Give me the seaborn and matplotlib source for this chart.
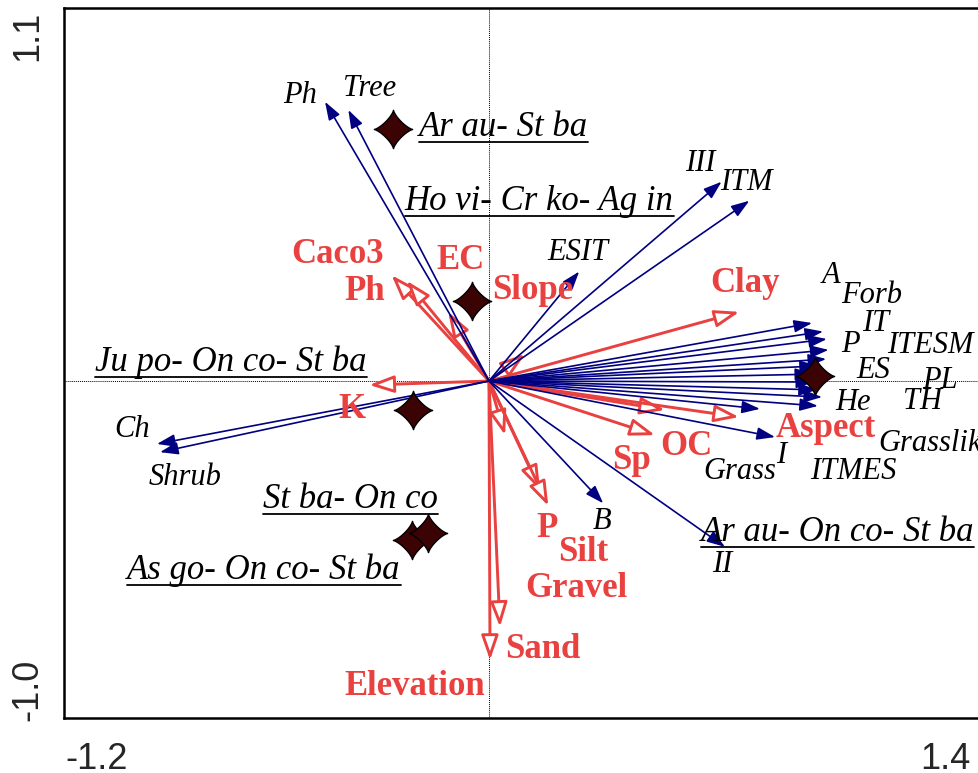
import numpy as np
import matplotlib
matplotlib.use('Agg')
import matplotlib.pyplot as plt
import matplotlib.transforms as mtransforms
from matplotlib.path import Path
import seaborn as sns

sns.set_style('white')
plt.rcParams['font.family'] = ['Liberation Serif', 'DejaVu Serif']

# life-form / functional type scores (blue arrows)
species = ['Ph', 'Tree', 'III', 'ITM', 'ESIT', 'Ch', 'Shrub', 'B', 'II',
           'A', 'Forb', 'IT', 'P', 'ITESM', 'ES', 'PL', 'He', 'TH',
           'Grasslike', 'ITMES', 'Grass', 'I']
species_x = [-0.478, -0.410, 0.678, 0.759, 0.263, -0.968, -0.959, 0.333, 0.688,
             0.942, 0.974, 0.985, 0.990, 0.983, 0.959, 0.945, 0.948, 0.956,
             0.971, 0.959, 0.790, 0.834]
species_y = [0.852, 0.827, 0.608, 0.550, 0.334, -0.192, -0.217, -0.373, -0.506,
             0.177, 0.151, 0.128, 0.095, 0.067, 0.046, 0.021, -0.003, -0.027,
             -0.049, -0.076, -0.085, -0.171]

# environmental variables (red arrows)
env = ['Caco3', 'Ph', 'EC', 'Slope', 'Clay', 'K', 'OC', 'Aspect', 'Sp',
       'P', 'Silt', 'Gravel', 'Sand', 'Elevation']
env_x = [-0.284, -0.240, -0.119, 0.105, 0.730, -0.349, 0.513, 0.729, 0.484,
         0.047, 0.149, 0.173, 0.032, 0.003]
env_y = [0.323, 0.306, 0.211, 0.082, 0.211, -0.012, -0.088, -0.110, -0.165,
         -0.165, -0.333, -0.381, -0.750, -0.851]

# plant community centroids (stars)
samples = ['Ar au- St ba', 'Ho vi- Cr ko- Ag in', 'Ju po- On co- St ba',
           'As go- On co- St ba', 'St ba- On co', 'Ar au- On co- St ba']
sample_x = [-0.279, -0.050, -0.221, -0.224, -0.178, 0.950]
sample_y = [0.768, 0.245, -0.088, -0.485, -0.464, 0.015]

x_ticks = [-1.2, -1.0, -0.5, 0.0, 0.5, 1.0, 1.4]
y_ticks = [-1.0, -0.5, 0.0, 0.5, 1.0, 1.1]

# label offsets in pixels (dx, dy) from the arrow tip / star
species_off = [(-25, 6), (21, 21), (-21, 18), (-3, 18), (-1, 19), (-25, 14),
               (25, -25), (-1, -18), (-3, -18), (19, 48), (49, 36), (49, 16),
               (22, 5), (104, 14), (55, -5), (127, -6), (39, -20), (106, -12),
               (56, -46), (35, -66), (-20, -63), (6, -18)]
env_off = [(-54, 21), (-42, -11), (12, 51), (8, 64), (6, 28), (-17, -25),
           (21, -37), (87, -11), (-23, -25), (42, -93), (43, -62), (28, -83),
           (43, -23), (-75, -27)]
sample_off = [(26, -7), (-67, 91), (-318, 39), (-285, -39), (-165, 25), (-114, -165)]

navy = '#000080'
red = '#E8413F'

fig = plt.figure(figsize=(9.79, 7.73), dpi=100)
ax = fig.add_axes([64 / 979, 55 / 773, (979 - 64) / 979, 710 / 773])


def shift(dx, dy):
    return mtransforms.ScaledTranslation(dx / 100, dy / 100, fig.dpi_scale_trans)


ax.axhline(0, color='black', lw=0.7, ls=(0, (1, 1)), zorder=1)
ax.axvline(0, color='black', lw=0.7, ls=(0, (1, 1)), zorder=1)

for x, y in zip(species_x, species_y):
    ax.annotate('', xy=(x, y), xytext=(0, 0), zorder=3,
                arrowprops=dict(arrowstyle='-|>,head_length=11,head_width=3.8',
                                ec=navy, fc=navy, lw=1.2, shrinkA=0, shrinkB=0,
                                mutation_scale=1))

for x, y in zip(env_x, env_y):
    ax.annotate('', xy=(x, y), xytext=(0, 0), zorder=2,
                arrowprops=dict(arrowstyle='-|>,head_length=15,head_width=5.2',
                                ec=red, fc='white', lw=2.1, shrinkA=0, shrinkB=0,
                                mutation_scale=1))

# four-pointed star marker
t = np.linspace(0, 2 * np.pi, 241)
p = 2.6
star = Path(np.column_stack([np.sign(np.cos(t)) * np.abs(np.cos(t)) ** p,
                             np.sign(np.sin(t)) * np.abs(np.sin(t)) ** p]), closed=True)
sns.scatterplot(x=sample_x, y=sample_y, marker=star, s=760, color='#3b0303',
                edgecolor='black', linewidth=1, ax=ax, zorder=5, legend=False)

for name, x, y, (dx, dy) in zip(species, species_x, species_y, species_off):
    ha = 'left' if name == 'Grasslike' else 'center'
    ax.text(x, y, name, transform=ax.transData + shift(dx, dy), ha=ha, va='center',
            fontsize=22, style='italic', color='black', zorder=6)

for name, x, y, (dx, dy) in zip(env, env_x, env_y, env_off):
    ax.text(x, y, name, transform=ax.transData + shift(dx, dy), ha='center', va='center',
            fontsize=25, weight='bold', color=red, zorder=6)

sample_texts = []
for name, x, y, (dx, dy) in zip(samples, sample_x, sample_y, sample_off):
    txt = ax.text(x, y, name, transform=ax.transData + shift(dx, dy), ha='left',
                  va='baseline', fontsize=25, style='italic', color='black', zorder=6)
    sample_texts.append(txt)

ax.set_xlim(-1.239, 1.4286)
ax.set_ylim(-1.028, 1.138)
ax.set_xticks(x_ticks)
ax.set_yticks(y_ticks)
ax.set_xticklabels([])
ax.set_yticklabels([])
ax.tick_params(direction='out', length=5, width=1.3, color='black')
for s in ax.spines.values():
    s.set_linewidth(1.8)
    s.set_color('black')
ax.set_xlabel('')
ax.set_ylabel('')

xtr = mtransforms.blended_transform_factory(ax.transData, ax.transAxes)
ytr = mtransforms.blended_transform_factory(ax.transAxes, ax.transData)
for val, lab, dx in [(-1.2, '-1.2', 19), (1.4, '1.4', -24)]:
    ax.text(val, 0, lab, transform=xtr + shift(dx, -24), ha='center', va='top',
            fontsize=26, family='Liberation Sans', clip_on=False)
for val, lab, dy in [(1.1, '1.1', -15), (-1.0, '-1.0', 19)]:
    ax.text(0, val, lab, transform=ytr + shift(-36, dy), ha='center', va='center',
            rotation=90, fontsize=26, family='Liberation Sans', clip_on=False)

# underline the community labels
fig.canvas.draw()
inv = ax.transData.inverted()
for txt in sample_texts:
    bb = txt.get_window_extent()
    base = txt.get_transform().transform(txt.get_position())[1]
    (x0, yl), (x1, _) = inv.transform([(bb.x0, base - 6), (bb.x1, base - 6)])
    ax.plot([x0, x1], [yl, yl], color='black', lw=1.3, zorder=6)

fig.savefig('out.png', dpi=100)
